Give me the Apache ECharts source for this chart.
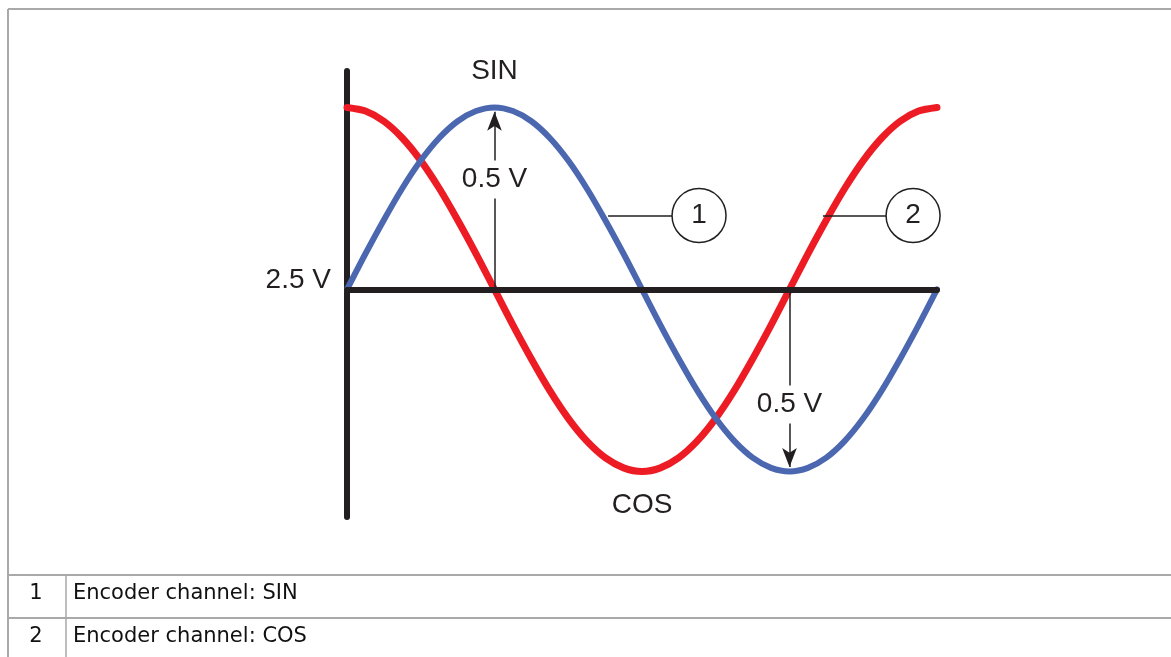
<!DOCTYPE html>
<html>
<head>
<meta charset="utf-8">
<script src="https://cdn.jsdelivr.net/npm/echarts@6/dist/echarts.min.js"></script>
<style>
  html, body { margin: 0; padding: 0; background: #fff; }
  #chart { width: 1171px; height: 657px; }
</style>
</head>
<body>
<div id="chart"></div>
<script>
// phase in degrees, one period
const phase = [0, 11.25, 22.5, 33.75, 45, 56.25, 67.5, 78.75, 90, 101.25, 112.5, 123.75, 135, 146.25, 157.5, 168.75,
  180, 191.25, 202.5, 213.75, 225, 236.25, 247.5, 258.75, 270, 281.25, 292.5, 303.75, 315, 326.25, 337.5, 348.75, 360]
// signal voltage (V), 2.5 V offset, 0.5 V amplitude
const sinVolts = [2.5, 2.598, 2.691, 2.778, 2.854, 2.916, 2.962, 2.990, 3.0, 2.990, 2.962, 2.916, 2.854, 2.778, 2.691, 2.598,
  2.5, 2.402, 2.309, 2.222, 2.146, 2.084, 2.038, 2.010, 2.0, 2.010, 2.038, 2.084, 2.146, 2.222, 2.309, 2.402, 2.5]
const cosVolts = [3.0, 2.990, 2.962, 2.916, 2.854, 2.778, 2.691, 2.598, 2.5, 2.402, 2.309, 2.222, 2.146, 2.084, 2.038, 2.010,
  2.0, 2.010, 2.038, 2.084, 2.146, 2.222, 2.309, 2.402, 2.5, 2.598, 2.691, 2.778, 2.854, 2.916, 2.962, 2.990, 3.0]
const offsetVolts = 2.5
const amplitudeArrows = [[90, 3.0], [270, 2.0]] // from offset to peak
const callouts = [['1', 214.8, 2.703, 159.3, 198.3], ['2', 345.4, 2.703, 290.4, 328.9]]
const legendRows = [['1', 'Encoder channel: SIN'], ['2', 'Encoder channel: COS']]

const BLUE = '#4a67b0'
const RED = '#ed1c24'
const INK = '#231f20'
const GRID_GREY = '#a9a9a9'
const fontMain = '"Liberation Sans", Arial, sans-serif'

const chart = echarts.init(document.getElementById('chart'), null, { renderer: 'canvas' })

const toPairs = (ys) => phase.map((x, i) => [x, ys[i]])

const arrowLines = amplitudeArrows.map(([x, y]) => [
  { coord: [x, offsetVolts], symbol: 'none' },
  { coord: [x, y + (y > offsetVolts ? -0.012 : 0.012)], symbol: 'arrow' }
])

const leaderLines = callouts.map(c => [
  { coord: [c[3], c[2]], symbol: 'none' },
  { coord: [c[4], c[2]], symbol: 'none' }
])

const option = {
  animation: false,
  grid: { left: 347, width: 590, top: 71, height: 446 },
  xAxis: { type: 'value', min: 0, max: 360, show: false },
  yAxis: {
    type: 'value', min: 1.875, max: 3.1,
    axisLine: { show: true, lineStyle: { color: INK, width: 6, cap: 'round' } },
    axisTick: { show: false },
    axisLabel: { show: false },
    splitLine: { show: false }
  },
  series: [
    {
      name: 'COS', type: 'line', data: toPairs(cosVolts), smooth: 0.3,
      symbol: 'none', z: 2,
      lineStyle: { color: RED, width: 7, cap: 'round' }
    },
    {
      name: 'SIN', type: 'line', data: toPairs(sinVolts), smooth: 0.3,
      symbol: 'none', z: 3,
      lineStyle: { color: BLUE, width: 6, cap: 'round' }
    },
    {
      // horizontal 2.5 V axis
      type: 'line', data: [], z: 4,
      markLine: {
        silent: true, symbol: 'none', label: { show: false },
        lineStyle: { color: INK, width: 6, type: 'solid', cap: 'round' },
        data: [[{ coord: [0, offsetVolts] }, { coord: [360, offsetVolts] }]]
      }
    },
    {
      // 0.5 V arrows and callout leaders
      type: 'line', data: [], z: 1,
      markLine: {
        silent: true, label: { show: false },
        symbolSize: [11, 19],
        lineStyle: { color: INK, width: 1.5, type: 'solid' },
        data: arrowLines.concat(leaderLines)
      }
    },
    {
      // callout circles
      type: 'scatter', z: 5, symbol: 'circle', symbolSize: 54,
      itemStyle: { color: '#fff', borderColor: INK, borderWidth: 1.5, opacity: 1 },
      label: {
        show: true, position: 'inside', color: INK,
        fontFamily: fontMain, fontSize: 28,
        formatter: p => p.data.name
      },
      data: callouts.map(c => ({ name: c[0], value: [c[1], c[2]] }))
    },
    {
      // text annotations
      type: 'scatter', z: 6, symbolSize: 0, silent: true,
      itemStyle: { opacity: 1 },
      label: {
        show: true, color: INK, fontFamily: fontMain, fontSize: 28,
        formatter: p => p.data.name
      },
      data: [
        { name: 'SIN', value: [90, 3.1], label: { position: 'inside' } },
        { name: 'COS', value: [180, 1.907], label: { position: 'inside' } },
        { name: '0.5 V', value: [90, 2.802], label: { position: 'inside', backgroundColor: '#fff', padding: [5, 4] } },
        { name: '0.5 V', value: [270, 2.184], label: { position: 'inside', backgroundColor: '#fff', padding: [5, 4] } },
        { name: '2.5 V', value: [0, 2.5], label: { position: 'left', distance: 16, offset: [0, -9] } }
      ]
    }
  ],
  graphic: [
    // outer frame (top + left) and table rules
    { type: 'line', shape: { x1: 8, y1: 9, x2: 1171, y2: 9 }, style: { stroke: GRID_GREY, lineWidth: 2 } },
    { type: 'line', shape: { x1: 8, y1: 9, x2: 8, y2: 657 }, style: { stroke: GRID_GREY, lineWidth: 2 } },
    { type: 'line', shape: { x1: 8, y1: 575, x2: 1171, y2: 575 }, style: { stroke: GRID_GREY, lineWidth: 2 } },
    { type: 'line', shape: { x1: 8, y1: 618, x2: 1171, y2: 618 }, style: { stroke: GRID_GREY, lineWidth: 2 } },
    { type: 'line', shape: { x1: 66, y1: 575, x2: 66, y2: 657 }, style: { stroke: GRID_GREY, lineWidth: 1.5 } }
  ].concat(legendRows.flatMap((r, i) => [
    {
      type: 'text', x: 36, y: 594 + i * 43,
      style: { text: r[0], fill: '#111', font: '21px "DejaVu Sans", sans-serif', textAlign: 'center', textVerticalAlign: 'middle' }
    },
    {
      type: 'text', x: 73, y: 594 + i * 43,
      style: { text: r[1], fill: '#111', font: '21px "DejaVu Sans", sans-serif', textAlign: 'left', textVerticalAlign: 'middle' }
    }
  ]))
}

chart.setOption(option)
</script>
</body>
</html>
